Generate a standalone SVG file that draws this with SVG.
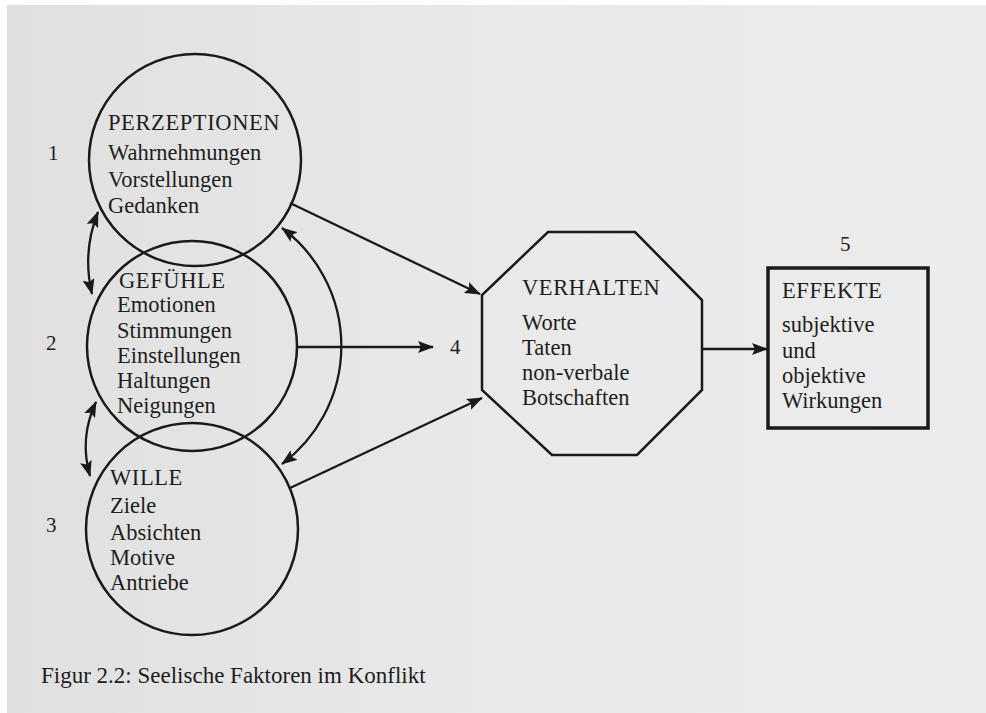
<svg xmlns="http://www.w3.org/2000/svg" width="986" height="713" viewBox="0 0 986 713">
<defs>
<linearGradient id="paper" x1="0" y1="0" x2="1" y2="0">
<stop offset="0" stop-color="#e0e0e0"/>
<stop offset="0.5" stop-color="#e9e9e9"/>
<stop offset="1" stop-color="#ececec"/>
</linearGradient>
<marker id="ah" viewBox="0 0 16 12" refX="15" refY="6" markerWidth="16" markerHeight="12" markerUnits="userSpaceOnUse" orient="auto-start-reverse">
<path d="M0,0 L16,6 L0,12 L3,6 Z" fill="#1a1a1a"/>
</marker>
</defs>
<style>
.shape{fill:none;stroke:#1a1a1a;stroke-width:2.5}
.conn{fill:none;stroke:#1a1a1a;stroke-width:2.3}
text{font-family:"Liberation Serif","DejaVu Serif",serif;font-size:22.5px;fill:#1e1e1e}
.cap{letter-spacing:0.6px}
.num{font-size:21px}
</style>
<rect x="0" y="0" width="986" height="713" fill="#ffffff"/>
<rect x="7" y="5" width="979" height="708" fill="url(#paper)"/>

<g id="perzeptionen">
<circle class="shape" cx="195" cy="160" r="106"/>
<text class="cap" x="108" y="130">PERZEPTIONEN</text>
<text x="108" y="160">Wahrnehmungen</text>
<text x="108" y="187">Vorstellungen</text>
<text x="108" y="213">Gedanken</text>
<text class="num" x="48" y="160">1</text>
</g>

<g id="gefuehle">
<circle class="shape" cx="192" cy="346" r="105"/>
<text class="cap" x="119" y="288">GEFÜHLE</text>
<text x="117" y="312">Emotionen</text>
<text x="117" y="338">Stimmungen</text>
<text x="117" y="363">Einstellungen</text>
<text x="117" y="388">Haltungen</text>
<text x="117" y="413">Neigungen</text>
<text class="num" x="46" y="350">2</text>
</g>

<g id="wille">
<circle class="shape" cx="192" cy="529" r="106"/>
<text class="cap" x="110" y="485">WILLE</text>
<text x="110" y="513">Ziele</text>
<text x="110" y="540">Absichten</text>
<text x="110" y="565">Motive</text>
<text x="110" y="590">Antriebe</text>
<text class="num" x="46" y="532">3</text>
</g>

<g id="verhalten">
<polygon class="shape" points="548,232 635,232 702,300 702,390 637,455 552,455 482,390 482,295"/>
<text class="cap" x="522" y="295">VERHALTEN</text>
<text x="522" y="330">Worte</text>
<text x="522" y="355">Taten</text>
<text x="522" y="380">non-verbale</text>
<text x="522" y="405">Botschaften</text>
<text class="num" x="450" y="354">4</text>
</g>

<g id="effekte">
<rect x="768" y="268" width="160" height="160" fill="none" stroke="#1a1a1a" stroke-width="3.5"/>
<text class="cap" x="782" y="298">EFFEKTE</text>
<text x="782" y="332">subjektive</text>
<text x="782" y="358">und</text>
<text x="782" y="383">objektive</text>
<text x="782" y="408">Wirkungen</text>
<text class="num" x="840" y="251">5</text>
</g>

<g id="connectors">
<path class="conn" d="M98,212 Q82,252 92,294" marker-start="url(#ah)" marker-end="url(#ah)"/>
<path class="conn" d="M96,402 Q79,438 90,476" marker-start="url(#ah)" marker-end="url(#ah)"/>
<path class="conn" d="M282,228 A147,147 0 0 1 282,464" marker-start="url(#ah)" marker-end="url(#ah)"/>
<line class="conn" x1="290" y1="203" x2="480" y2="294" marker-end="url(#ah)"/>
<line class="conn" x1="297" y1="347" x2="433" y2="347" marker-end="url(#ah)"/>
<line class="conn" x1="290" y1="488" x2="482" y2="398" marker-end="url(#ah)"/>
<line class="conn" x1="702" y1="349" x2="767" y2="349" marker-end="url(#ah)"/>
</g>

<text x="41" y="683" style="font-size:23px">Figur 2.2: Seelische Faktoren im Konflikt</text>
</svg>
